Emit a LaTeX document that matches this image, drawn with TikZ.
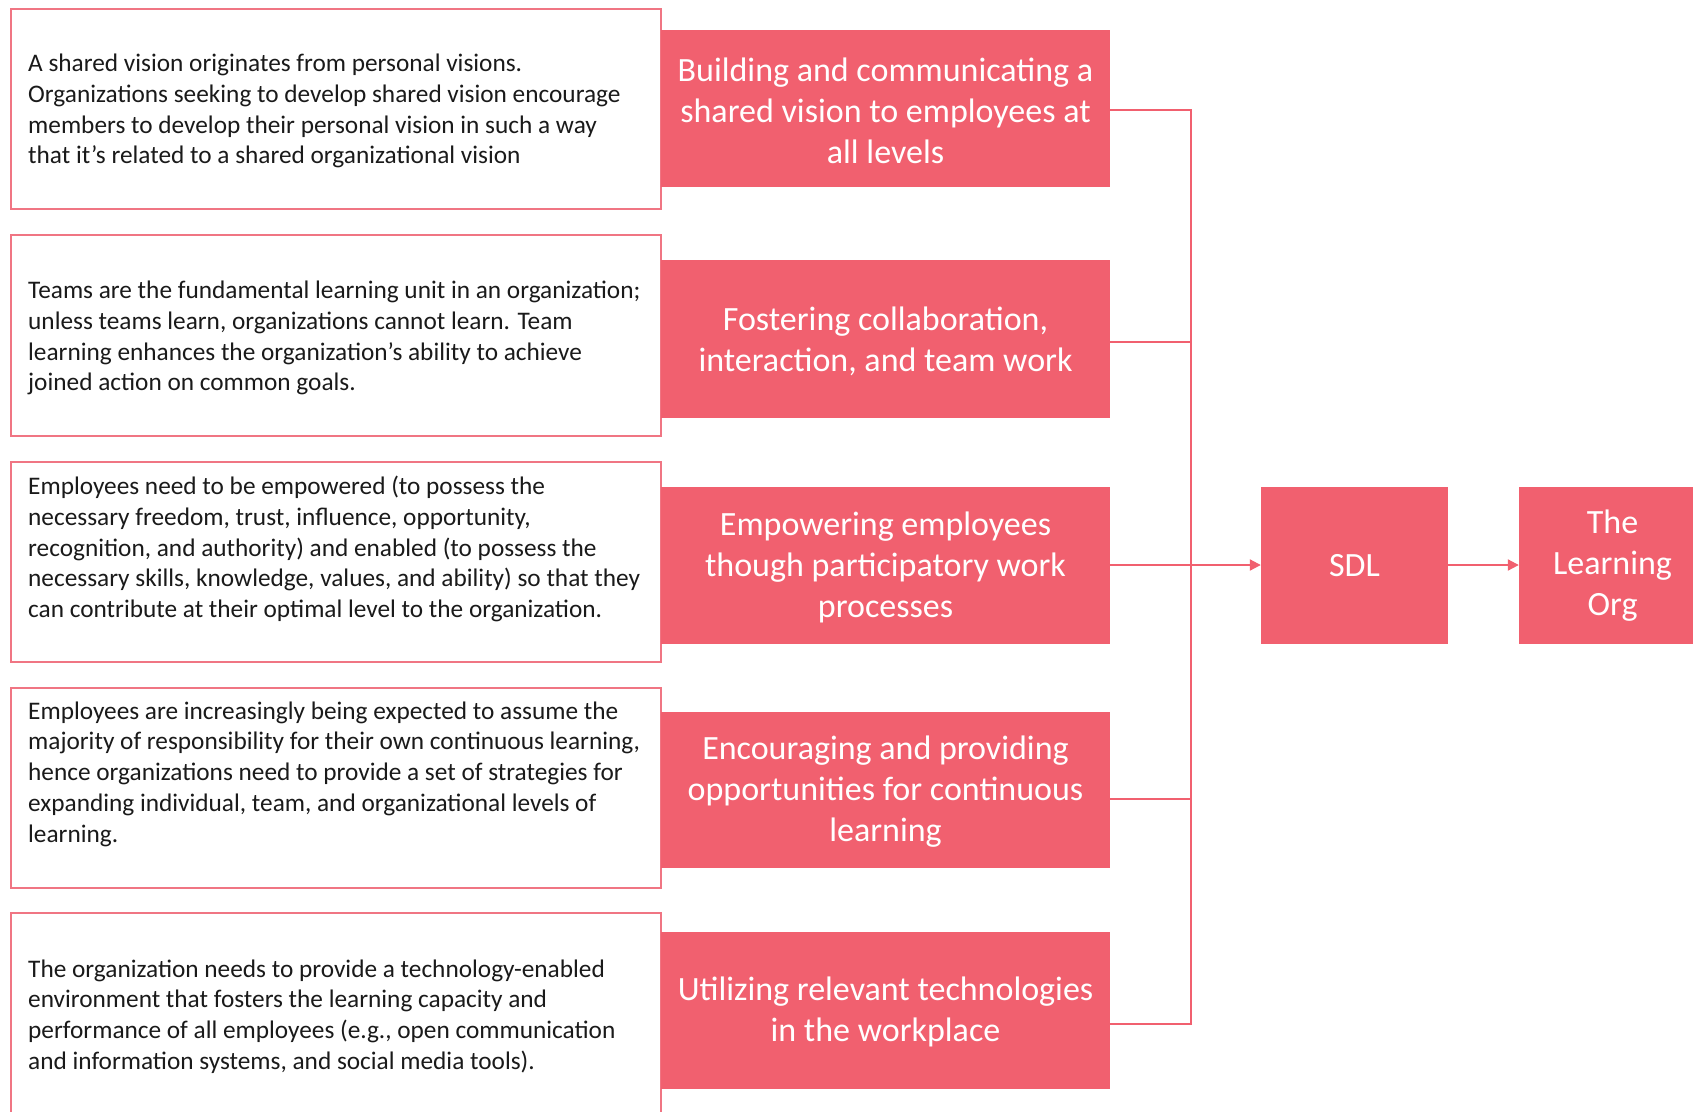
\documentclass[tikz,border=0pt]{standalone}
\usepackage{fontspec}
\setmainfont{Carlito}
\usetikzlibrary{arrows.meta}
\definecolor{pk}{HTML}{F1606F}
\definecolor{pkline}{HTML}{F07583}
\definecolor{txt}{HTML}{1A1A1A}
\begin{document}
\begin{tikzpicture}[x=1pt,y=-1pt,
  wbox/.style={draw=pkline,line width=1.6pt,fill=white},
  desc/.style={anchor=west,align=left,text=txt,inner sep=0pt,font=\fontsize{25.3}{30.8}\selectfont},
  pbox/.style={fill=pk,draw=none},
  ptext/.style={text=white,align=center,inner sep=0pt,font=\fontsize{34}{41}\selectfont},
  conn/.style={draw=pk,line width=2pt},
  arr/.style={conn,-{Triangle[length=11pt,width=11pt]}}]
\useasboundingbox (0,0) rectangle (1693,1111);
\clip (0,0) rectangle (1693,1111);
% white description boxes
\path[wbox] (11,9) rectangle (661,209);
\path[wbox] (11,235) rectangle (661,436);
\path[wbox] (11,462) rectangle (661,662);
\path[wbox] (11,688) rectangle (661,888);
\path[wbox] (11,913) rectangle (661,1140);
\node[desc] (d1) at (28,111) {A shared vision originates from personal visions.\\Organizations seeking to develop shared vision encourage\\members to develop their personal vision in such a way\\that it’s related to a shared organizational vision};
\node[desc] (d2) at (28,338) {Teams are the fundamental learning unit in an organization;\\unless teams learn, organizations cannot learn. Team\\learning enhances the organization’s ability to achieve\\joined action on common goals.};
\node[desc] (d3) at (28,549) {Employees need to be empowered (to possess the\\necessary freedom, trust, influence, opportunity,\\recognition, and authority) and enabled (to possess the\\necessary skills, knowledge, values, and ability) so that they\\can contribute at their optimal level to the organization.};
\node[desc] (d4) at (28,774) {Employees are increasingly being expected to assume the\\majority of responsibility for their own continuous learning,\\hence organizations need to provide a set of strategies for\\expanding individual, team, and organizational levels of\\learning.};
\node[desc] (d5) at (28,1016.5) {The organization needs to provide a technology-enabled\\environment that fosters the learning capacity and\\performance of all employees (e.g., open communication\\and information systems, and social media tools).};
% pink boxes
\node[pbox,minimum width=449pt,minimum height=157pt] (p1) at (885.5,108.5) {};
\node[pbox,minimum width=449pt,minimum height=158pt] (p2) at (885.5,339) {};
\node[pbox,minimum width=449pt,minimum height=157pt] (p3) at (885.5,565) {};
\node[pbox,minimum width=449pt,minimum height=156pt] (p4) at (885.5,790) {};
\node[pbox,minimum width=449pt,minimum height=157pt] (p5) at (885.5,1010) {};
\node[ptext] at ([yshift=-2pt]p1) {Building and communicating a\\shared vision to employees at\\all levels};
\node[ptext] at ([yshift=-2pt]p2) {Fostering collaboration,\\interaction, and team work};
\node[ptext] at ([yshift=-2pt]p3) {Empowering employees\\though participatory work\\processes};
\node[ptext] at ([yshift=-2pt]p4) {Encouraging and providing\\opportunities for continuous\\learning};
\node[ptext] at ([yshift=-2pt]p5) {Utilizing relevant technologies\\in the workplace};
\node[pbox,minimum width=187pt,minimum height=157pt] (sdl) at (1354.5,565) {};
\node[ptext] at ([yshift=-1pt]sdl) {SDL};
\node[pbox,minimum width=187pt,minimum height=157pt] (org) at (1612.5,565) {};
\node[ptext] at ([yshift=-1pt]org) {The\\Learning\\Org};
% connectors
\coordinate (bus) at (1191,0);
\draw[conn] ([yshift=-1.5pt]p1.east) -- ([yshift=-1.5pt]p1.east -| bus) -- ([yshift=-14pt]p5.east -| bus) -- ([yshift=-14pt]p5.east);
\draw[conn] ([yshift=-3pt]p2.east) -- ([yshift=-3pt]p2.east -| bus);
\draw[conn] ([yshift=-9pt]p4.east) -- ([yshift=-9pt]p4.east -| bus);
\draw[arr] (p3.east) -- (sdl.west);
\draw[arr] (sdl.east) -- (org.west);
\end{tikzpicture}
\end{document}
